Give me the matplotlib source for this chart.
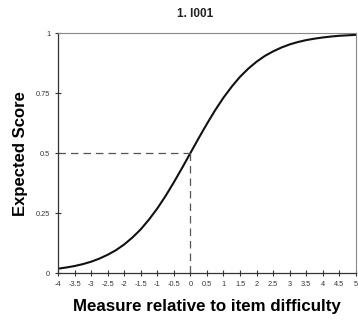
import matplotlib
matplotlib.use("Agg")
import matplotlib.pyplot as plt
import numpy as np

plt.rcParams['font.family'] = ['Liberation Sans', 'DejaVu Sans']

# values, every 0.25 logits
measure = np.arange(-4, 5.01, 0.25)
expected = [0.018, 0.023, 0.029, 0.037, 0.047, 0.060, 0.076, 0.095, 0.119,
            0.148, 0.182, 0.223, 0.269, 0.321, 0.378, 0.438, 0.500,
            0.562, 0.622, 0.679, 0.731, 0.777, 0.818, 0.852, 0.881,
            0.905, 0.924, 0.940, 0.953, 0.963, 0.971, 0.977, 0.982,
            0.986, 0.989, 0.991, 0.993]
x_ticks = np.arange(-4, 5.01, 0.5)
y_ticks = [0, 0.25, 0.5, 0.75, 1]

fig = plt.figure(figsize=(3.58, 3.25), dpi=100)
ax = fig.add_axes([0.162, 0.16, 0.832, 0.738])

ax.plot(measure, expected, color='#111111', lw=1.5)
ax.plot([-4, 0], [0.5, 0.5], color='#555555', lw=0.9, dashes=(6, 4))
ax.plot([0, 0], [0, 0.5], color='#555555', lw=0.9, dashes=(6, 4))

ax.set_xlim(-4, 5)
ax.set_ylim(0, 1)
ax.set_xticks(x_ticks)
ax.set_xticklabels([f"{t:g}" for t in x_ticks])
ax.set_yticks(y_ticks)
ax.set_yticklabels([f"{t:g}" for t in y_ticks])
ax.tick_params(axis='both', labelsize=5.3, direction='inout', length=5,
               width=0.8, color='#333333', labelcolor='#333333', pad=3)

for side in ['top', 'right']:
    ax.spines[side].set_color('#888888')
    ax.spines[side].set_linewidth(0.8)
for side in ['left', 'bottom']:
    ax.spines[side].set_color('#333333')
    ax.spines[side].set_linewidth(0.9)

fig.text(0.545, 0.957, "1. I001", fontsize=8.5, ha='center', va='center',
         fontweight='bold', color='#222222')
ax.set_xlabel("Measure relative to item difficulty", fontsize=12.2,
              fontweight='bold', labelpad=8)
ax.set_ylabel("Expected Score", fontsize=12, fontweight='bold', labelpad=6)

fig.savefig("out.png", dpi=100)
